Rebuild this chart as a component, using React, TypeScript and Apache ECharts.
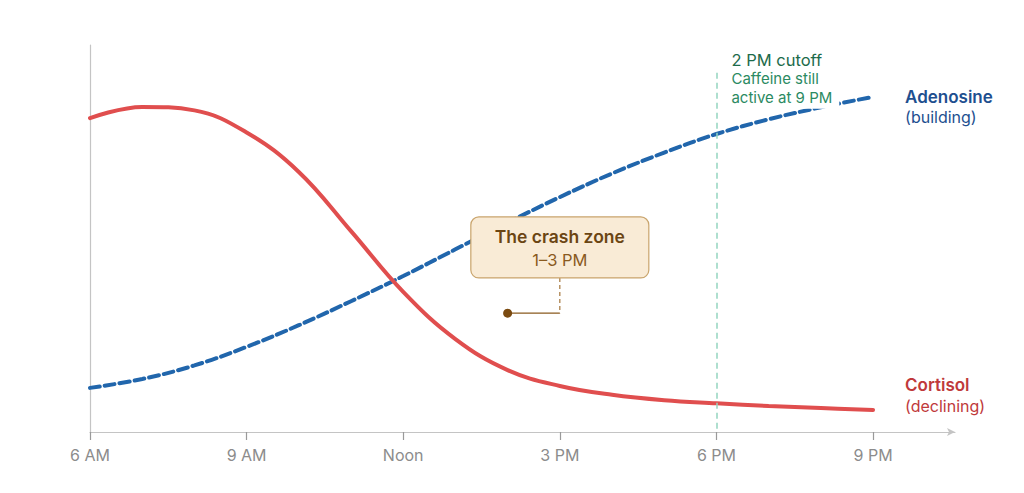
import { useEffect, useRef } from 'react';
import * as echarts from 'echarts';

// ─── Data ─────────────────────────────────────────────────────────────────────

const HOURS = [6, 7, 8, 9, 10, 11, 12, 13, 14, 15, 16, 17, 18, 19, 20, 21];
const CORTISOL = [81.1, 84.0, 83.1, 77.4, 67.2, 51.9, 36.2, 24.0, 16.0, 11.9, 9.6, 8.2, 7.4, 6.7, 6.2, 5.7];
const ADENOSINE = [11.4, 13.7, 17.2, 22.0, 27.6, 33.8, 40.3, 47.2, 54.1, 60.7, 66.8, 72.2, 77.0, 80.8, 83.9, 86.6];

const TICK_HOURS = [6, 9, 12, 15, 18, 21];
const TICK_LABELS = ['6 AM', '9 AM', 'Noon', '3 PM', '6 PM', '9 PM'];

// cutoff marker: hour and top of the dashed line
const CUTOFF = [18, 92.8];
// crash zone callout: box centre and the point it refers to
const CRASH_BOX = [15, 47.7];
const CRASH_POINT = [14, 30.7];

const FONT = 'Inter, "Noto Sans", sans-serif';
const BLUE = '#2166ac';
const RED = '#e04e4e';

// ─── Component ────────────────────────────────────────────────────────────────

export default function App() {
  const ref = useRef<HTMLDivElement>(null);

  useEffect(() => {
    document.body.style.margin = '0';
    if (!ref.current) return;
    const chart = echarts.init(ref.current, null, { renderer: 'svg' });

    chart.setOption({
      animation: false,
      backgroundColor: '#fff',
      grid: { left: 90, right: 69, top: 45, bottom: 61 },
      xAxis: {
        type: 'value',
        min: 6,
        max: 22.57,
        splitLine: { show: false },
        axisLine: {
          lineStyle: { color: '#c4c4c4', width: 1.2 },
          symbol: ['none', 'arrow'],
          symbolSize: [6, 8],
        },
        axisTick: { customValues: TICK_HOURS, length: 8, lineStyle: { color: '#9a9a9a', width: 1.2 } },
        axisLabel: {
          customValues: TICK_HOURS,
          margin: 15,
          color: '#8c8c8c',
          fontSize: 16,
          fontFamily: FONT,
          formatter: (v: number) => TICK_LABELS[TICK_HOURS.indexOf(v)] ?? '',
        },
      },
      yAxis: {
        type: 'value',
        min: 0,
        max: 100,
        splitLine: { show: false },
        axisTick: { show: false },
        axisLabel: { show: false },
        axisLine: { show: true, lineStyle: { color: '#c4c4c4', width: 1.2 } },
      },
      series: [
        {
          name: 'Cortisol',
          type: 'line',
          smooth: 0.4,
          symbol: 'none',
          data: HOURS.map((h, i) => [h, CORTISOL[i]]),
          lineStyle: { color: RED, width: 4, cap: 'round' },
          z: 3,
        },
        {
          name: 'Adenosine',
          type: 'line',
          smooth: 0.4,
          symbol: 'none',
          data: HOURS.map((h, i) => [h, ADENOSINE[i]]),
          lineStyle: { color: BLUE, width: 4, type: [10, 5], cap: 'round' },
          z: 2,
          markLine: {
            silent: true,
            symbol: 'none',
            label: { show: false },
            lineStyle: { color: '#94d5c0', width: 1.5, type: [6, 4] },
            data: [[{ coord: [CUTOFF[0], CUTOFF[1]] }, { coord: [CUTOFF[0], 0] }]],
          },
        },
      ],
    });

    const px = (p: number[]) => chart.convertToPixel({ gridIndex: 0 }, p) as number[];
    const last = HOURS.length - 1;
    const cut = px(CUTOFF);
    const box = px(CRASH_BOX);
    const dot = px(CRASH_POINT);
    const aEnd = px([HOURS[last], ADENOSINE[last]]);
    const cEnd = px([HOURS[last], CORTISOL[last]]);
    const bw = 178;
    const bh = 61;
    const boxBottom = box[1] + bh / 2;

    chart.setOption({
      graphic: [
        // cutoff annotation
        {
          type: 'text', x: cut[0] + 15, y: cut[1] - 13, z: 10,
          style: { text: '2 PM cutoff', fill: '#1d6b4b', font: `400 16.5px ${FONT}`, verticalAlign: 'middle' },
        },
        {
          type: 'text', x: cut[0] + 9, y: cut[1] - 4, z: 10,
          style: {
            text: 'Caffeine still\nactive at 9 PM',
            fill: '#2b8a62',
            font: `400 15px ${FONT}`,
            lineHeight: 19,
            backgroundColor: '#fff',
            padding: [0, 7, 2, 6],
          },
        },
        // series labels
        {
          type: 'text', x: aEnd[0] + 32, y: aEnd[1], z: 10,
          style: { text: 'Adenosine', fill: '#1e4f8f', font: `600 17px ${FONT}`, verticalAlign: 'middle' },
        },
        {
          type: 'text', x: aEnd[0] + 32, y: aEnd[1] + 20, z: 10,
          style: { text: '(building)', fill: '#1e4f8f', font: `400 16px ${FONT}`, verticalAlign: 'middle' },
        },
        {
          type: 'text', x: cEnd[0] + 32, y: cEnd[1] - 25, z: 10,
          style: { text: 'Cortisol', fill: '#c0393b', font: `600 17px ${FONT}`, verticalAlign: 'middle' },
        },
        {
          type: 'text', x: cEnd[0] + 32, y: cEnd[1] - 4, z: 10,
          style: { text: '(declining)', fill: '#c0393b', font: `400 16px ${FONT}`, verticalAlign: 'middle' },
        },
        // crash zone callout
        {
          type: 'line', z: 10,
          shape: { x1: box[0], y1: boxBottom, x2: box[0], y2: dot[1] },
          style: { stroke: '#a5763c', lineWidth: 1.2, lineDash: [4, 3] },
        },
        {
          type: 'line', z: 10,
          shape: { x1: dot[0], y1: dot[1], x2: box[0], y2: dot[1] },
          style: { stroke: '#8a5a1e', lineWidth: 1.2 },
        },
        {
          type: 'circle', z: 11,
          shape: { cx: dot[0], cy: dot[1], r: 4.5 },
          style: { fill: '#7a4a10' },
        },
        {
          type: 'rect', z: 10,
          shape: { x: box[0] - bw / 2, y: box[1] - bh / 2, width: bw, height: bh, r: 8 },
          style: { fill: '#f9ebd6', stroke: '#c9a46c', lineWidth: 1.2 },
        },
        {
          type: 'text', x: box[0], y: box[1] - 11, z: 11,
          style: { text: 'The crash zone', fill: '#6b4513', font: `600 17.5px ${FONT}`, align: 'center', verticalAlign: 'middle' },
        },
        {
          type: 'text', x: box[0], y: box[1] + 13, z: 11,
          style: { text: '1–3 PM', fill: '#8a5a1e', font: `400 16.5px ${FONT}`, align: 'center', verticalAlign: 'middle' },
        },
      ],
    });

    return () => chart.dispose();
  }, []);

  return <div ref={ref} style={{ width: 1024, height: 493 }} />;
}
